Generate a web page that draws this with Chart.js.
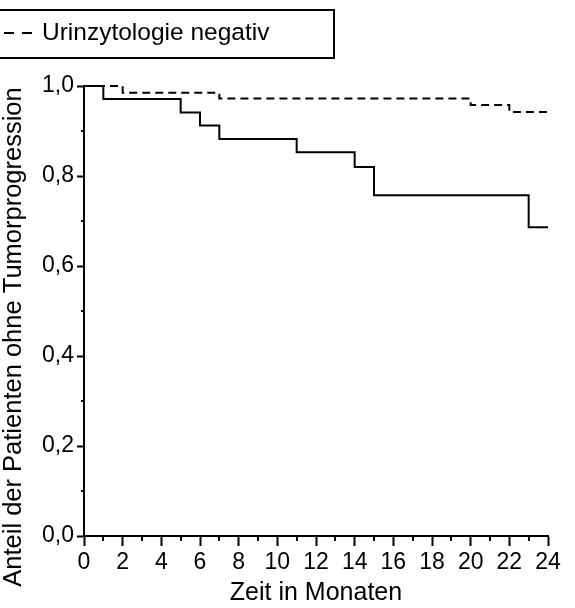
<!DOCTYPE html>
<html>
<head>
<meta charset="utf-8">
<script src="https://cdn.jsdelivr.net/npm/chart.js@4/dist/chart.umd.min.js"></script>
<style>
html, body { margin: 0; padding: 0; background: #fff; }
#wrap { width: 575px; height: 608px; }
</style>
</head>
<body>
<div id="wrap"><canvas id="km"></canvas></div>
<script>
// Kaplan-Meier data (months, proportion without progression)
var monthsPositive = [0, 1, 5, 6, 7, 11, 14, 15, 23, 24];
var survivalPositive = [1, 0.971, 0.941, 0.912, 0.882, 0.853, 0.82, 0.757, 0.686, 0.686];
var monthsNegative = [0, 2, 7, 20, 22, 24];
var survivalNegative = [1, 0.985, 0.972, 0.958, 0.942, 0.942];

var labelPositive = 'Urinzytologie positiv';
var labelNegative = 'Urinzytologie negativ';
var xTitle = 'Zeit in Monaten';
var yTitle = 'Anteil der Patienten ohne Tumorprogression';

var FONT = '"Liberation Sans", Arial, sans-serif';

function toPoints(xs, ys) {
  return xs.map(function (m, i) { return { x: m, y: ys[i] }; });
}

// short minor ticks at odd months and at 0.1, 0.3, ...
var minorTicks = {
  id: 'minorTicks',
  afterDraw: function (chart) {
    var ctx = chart.ctx, xs = chart.scales.x, ys = chart.scales.y;
    ctx.save();
    ctx.strokeStyle = '#000';
    ctx.lineWidth = 2;
    ctx.beginPath();
    for (var m = 1; m < 24; m += 2) {
      var px = Math.round(xs.getPixelForValue(m));
      ctx.moveTo(px, xs.top);
      ctx.lineTo(px, xs.top + 5);
    }
    for (var k = 1; k < 10; k += 2) {
      var py = Math.round(ys.getPixelForValue(k / 10));
      ctx.moveTo(ys.right, py);
      ctx.lineTo(ys.right - 3, py);
    }
    ctx.stroke();
    ctx.restore();
  }
};

// y title sits lower than the plot centre in the figure, so draw it here
var yAxisTitle = {
  id: 'yAxisTitle',
  afterDraw: function (chart) {
    var ctx = chart.ctx;
    ctx.save();
    ctx.translate(14, 337);
    ctx.rotate(-Math.PI / 2);
    ctx.fillStyle = '#000';
    ctx.font = '25.5px ' + FONT;
    ctx.textAlign = 'center';
    ctx.textBaseline = 'middle';
    ctx.fillText(yTitle, 0, 0);
    ctx.restore();
  }
};

// legend box (only the lower entry is visible in the figure)
var boxLegend = {
  id: 'boxLegend',
  afterDraw: function (chart) {
    var ctx = chart.ctx;
    ctx.save();
    ctx.strokeStyle = '#000';
    ctx.lineWidth = 2;
    ctx.strokeRect(-5, 10, 339, 48);
    ctx.setLineDash([10, 8]);
    ctx.beginPath();
    ctx.moveTo(4, 33);
    ctx.lineTo(33, 33);
    ctx.stroke();
    ctx.setLineDash([]);
    ctx.fillStyle = '#000';
    ctx.font = '24.5px ' + FONT;
    ctx.textBaseline = 'middle';
    ctx.fillText(labelNegative, 42, 33);
    ctx.restore();
  }
};

new Chart(document.getElementById('km'), {
  type: 'line',
  data: {
    datasets: [{
      label: labelPositive,
      data: toPoints(monthsPositive, survivalPositive),
      borderColor: '#000',
      borderWidth: 2,
      stepped: 'before',
      pointRadius: 0,
      fill: false,
      clip: false
    }, {
      label: labelNegative,
      data: toPoints(monthsNegative, survivalNegative),
      borderColor: '#000',
      borderWidth: 2,
      borderDash: [8, 5],
      stepped: 'before',
      pointRadius: 0,
      fill: false,
      clip: false
    }]
  },
  options: {
    responsive: true,
    maintainAspectRatio: false,
    animation: false,
    layout: { padding: { top: 86, right: 27, left: 0, bottom: 0 } },
    plugins: {
      legend: { display: false },
      tooltip: { enabled: false }
    },
    scales: {
      x: {
        type: 'linear',
        min: 0,
        max: 24,
        afterFit: function (s) { s.height = 72; },
        border: { display: true, color: '#000', width: 2 },
        grid: {
          drawOnChartArea: false,
          drawTicks: true,
          tickLength: 10,
          tickWidth: 2,
          tickColor: function (c) { return c.tick && c.tick.value % 2 === 0 ? '#000' : 'rgba(0,0,0,0)'; }
        },
        ticks: {
          stepSize: 1,
          autoSkip: false,
          maxRotation: 0,
          padding: 3,
          color: '#000',
          font: { family: FONT, size: 23 },
          callback: function (v) { return v % 2 === 0 ? String(v) : ''; }
        },
        title: {
          display: true,
          text: xTitle,
          color: '#000',
          font: { family: FONT, size: 25 },
          padding: { top: 0, bottom: 0 }
        }
      },
      y: {
        type: 'linear',
        min: 0,
        max: 1,
        afterFit: function (s) { s.width = 84; },
        border: { display: true, color: '#000', width: 2 },
        grid: {
          drawOnChartArea: false,
          drawTicks: true,
          tickLength: 7,
          tickWidth: 2,
          tickColor: function (c) { return c.tick && Math.round(c.tick.value * 10) % 2 === 0 ? '#000' : 'rgba(0,0,0,0)'; }
        },
        ticks: {
          stepSize: 0.1,
          autoSkip: false,
          padding: 3,
          color: '#000',
          font: { family: FONT, size: 23 },
          callback: function (v) {
            var k = Math.round(v * 10);
            return k % 2 === 0 ? (k / 10).toFixed(1).replace('.', ',') : '';
          }
        },
        title: { display: false }
      }
    }
  },
  plugins: [minorTicks, yAxisTitle, boxLegend]
});
</script>
</body>
</html>
